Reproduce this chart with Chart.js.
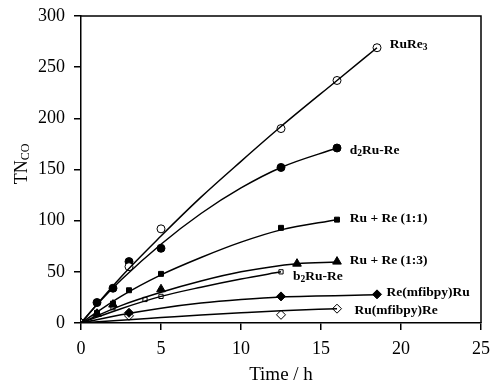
<!DOCTYPE html>
<html>
<head>
<meta charset="utf-8">
<script src="https://cdn.jsdelivr.net/npm/chart.js@4/dist/chart.umd.min.js"></script>
<style>
  html, body { margin: 0; padding: 0; background: #fff; }
  #wrap { width: 490px; height: 390px; }
</style>
</head>
<body>
<div id="wrap"><canvas id="tnChart"></canvas></div>
<script>
'use strict'

// measured points (Time / h, TNco)
const ruRe3T = [0, 3, 5, 12.5, 16, 18.5];
const ruRe3Y = [0, 55, 92, 190, 237, 269];
const d2T = [0, 1, 2, 3, 5, 12.5, 16];
const d2Y = [0, 20, 34, 60, 73, 152, 171];
const mix11T = [0, 1, 2, 3, 5, 12.5, 16];
const mix11Y = [0, 10, 19, 32, 48, 93, 101];
const mix13T = [0, 1, 2, 5, 13.5, 16];
const mix13Y = [0, 9, 18, 33, 58, 60];
const b2T = [0, 2, 4, 5, 12.5];
const b2Y = [0, 15, 23, 26, 50];
const reMRuT = [0, 3, 12.5, 18.5];
const reMRuY = [0, 10, 26, 28];
const ruMReT = [0, 3, 12.5, 16];
const ruMReY = [0, 7, 8, 14];

// fitted curves
const ruRe3FitT = [0, 2.5, 5, 7.5, 10, 12.5, 16, 18.5];
const ruRe3FitY = [0, 45, 85, 123, 158, 192, 237, 269];
const d2FitT = [0, 1, 2.5, 5, 7.5, 10, 12.5, 16];
const d2FitY = [0, 18, 42, 77, 107, 132, 152, 171];
const mix11FitT = [0, 2.5, 5, 7.5, 10, 12.5, 16];
const mix11FitY = [0, 26, 47, 64, 79, 91, 101];
const mix13FitT = [0, 2.5, 5, 7.5, 10, 13.5, 16];
const mix13FitY = [0, 17, 30, 41, 50, 58, 59.5];
const b2FitT = [0, 2.5, 5, 7.5, 10, 12.5];
const b2FitY = [0, 14, 26, 35, 43, 50];
const reMRuFitT = [0, 2.5, 5, 7.5, 10, 12.5, 18.5];
const reMRuFitY = [0, 8, 14.5, 19.5, 23, 25.5, 27.5];
const ruMReFitT = [0, 2.5, 5, 7.5, 10, 12.5, 16];
const ruMReFitY = [0, 2.8, 5.3, 7.8, 10, 12, 14];

const xTicks = [0, 5, 10, 15, 20, 25];
const yTicks = [0, 50, 100, 150, 200, 250, 300];

// series labels: [text, isSubscript] pieces, anchored in data coords
const labels = [
  { x: 19.3, y: 272, parts: [['RuRe', 0], ['3', 1]] },
  { x: 16.8, y: 169, parts: [['d', 0], ['2', 1], ['Ru-Re', 0]] },
  { x: 16.8, y: 102, parts: [['Ru + Re (1:1)', 0]] },
  { x: 16.8, y: 61, parts: [['Ru + Re (1:3)', 0]] },
  { x: 13.25, y: 45, parts: [['b', 0], ['2', 1], ['Ru-Re', 0]] },
  { x: 19.1, y: 29.5, parts: [['Re(mfibpy)Ru', 0]] },
  { x: 17.1, y: 12.5, parts: [['Ru(mfibpy)Re', 0]] }
];

function pts(t, y) {
  return t.map((v, i) => ({ x: v, y: y[i] }));
}

function marks(t, y, style, open, r) {
  return {
    data: pts(t, y),
    showLine: false,
    pointStyle: style,
    pointRadius: r,
    pointBackgroundColor: open ? '#fff' : '#000',
    pointBorderColor: '#000',
    pointBorderWidth: 1
  };
}

function fit(t, y) {
  return {
    data: pts(t, y),
    showLine: true,
    borderColor: '#000',
    borderWidth: 1.5,
    pointRadius: 0,
    cubicInterpolationMode: 'monotone',
    fill: false
  };
}

const serif = 'Liberation Serif, Times New Roman, serif';

const extras = {
  id: 'extras',
  afterDraw(chart) {
    const c = chart.ctx;
    const a = chart.chartArea;
    const xs = chart.scales.x;
    const ys = chart.scales.y;
    c.save();
    // top and right frame
    c.strokeStyle = '#000';
    c.lineWidth = 1.5;
    c.beginPath();
    c.moveTo(a.left, a.top);
    c.lineTo(a.right, a.top);
    c.lineTo(a.right, a.bottom);
    c.stroke();

    // series labels
    c.fillStyle = '#000';
    c.textBaseline = 'middle';
    labels.forEach(l => {
      let px = xs.getPixelForValue(l.x);
      const py = ys.getPixelForValue(l.y);
      l.parts.forEach(p => {
        if (p[1]) {
          c.font = 'bold 9.5px ' + serif;
          c.fillText(p[0], px, py + 3);
        } else {
          c.font = 'bold 13.5px ' + serif;
          c.fillText(p[0], px, py);
        }
        px += c.measureText(p[0]).width;
      });
    });

    // y axis title TNco
    c.translate(22, 164);
    c.rotate(-Math.PI / 2);
    c.font = '18px ' + serif;
    const w1 = c.measureText('TN').width;
    c.font = '12px ' + serif;
    const w2 = c.measureText('CO').width;
    const sx = -(w1 + w2) / 2;
    c.font = '18px ' + serif;
    c.fillText('TN', sx, 0);
    c.font = '12px ' + serif;
    c.fillText('CO', sx + w1, 4);
    c.restore();
  }
};

const ctx = document.getElementById('tnChart').getContext('2d');
const tnChart = new Chart(ctx, {
  type: 'scatter',
  data: {
    datasets: [
      fit(ruRe3FitT, ruRe3FitY),
      fit(d2FitT, d2FitY),
      fit(mix11FitT, mix11FitY),
      fit(mix13FitT, mix13FitY),
      fit(b2FitT, b2FitY),
      fit(reMRuFitT, reMRuFitY),
      fit(ruMReFitT, ruMReFitY),
      marks(ruRe3T, ruRe3Y, 'circle', true, 4),
      marks(d2T, d2Y, 'circle', false, 4),
      marks(mix11T, mix11Y, 'rect', false, 3.5),
      marks(mix13T, mix13Y, 'triangle', false, 5),
      marks(b2T, b2Y, 'rect', true, 3),
      marks(reMRuT, reMRuY, 'rectRot', false, 4.5),
      marks(ruMReT, ruMReY, 'rectRot', true, 4.5)
    ]
  },
  options: {
    responsive: true,
    maintainAspectRatio: false,
    animation: false,
    layout: { padding: { top: 16, right: 9, left: 0, bottom: 0 } },
    plugins: {
      legend: { display: false },
      tooltip: { enabled: false }
    },
    scales: {
      x: {
        type: 'linear',
        min: 0,
        max: 25,
        afterBuildTicks: s => { s.ticks = xTicks.map(v => ({ value: v })); },
        afterFit: s => { s.height = 67; s.paddingLeft = 0; s.paddingRight = 0; },
        grid: { drawOnChartArea: false, drawTicks: true, tickLength: 7, color: '#000', lineWidth: 1.5 },
        border: { display: true, color: '#000', width: 1.5 },
        ticks: { color: '#000', font: { family: serif, size: 18 }, padding: 8, maxRotation: 0 },
        title: { display: true, text: 'Time / h', color: '#000', font: { family: serif, size: 19 }, padding: { top: 8 } }
      },
      y: {
        type: 'linear',
        min: 0,
        max: 300,
        afterBuildTicks: s => { s.ticks = yTicks.map(v => ({ value: v })); },
        afterFit: s => { s.width = 81; s.paddingTop = 0; s.paddingBottom = 0; },
        grid: { drawOnChartArea: false, drawTicks: true, tickLength: 7, color: '#000', lineWidth: 1.5 },
        border: { display: true, color: '#000', width: 1.5 },
        ticks: { color: '#000', font: { family: serif, size: 18 }, padding: 9 }
      }
    }
  },
  plugins: [extras]
});
</script>
</body>
</html>
